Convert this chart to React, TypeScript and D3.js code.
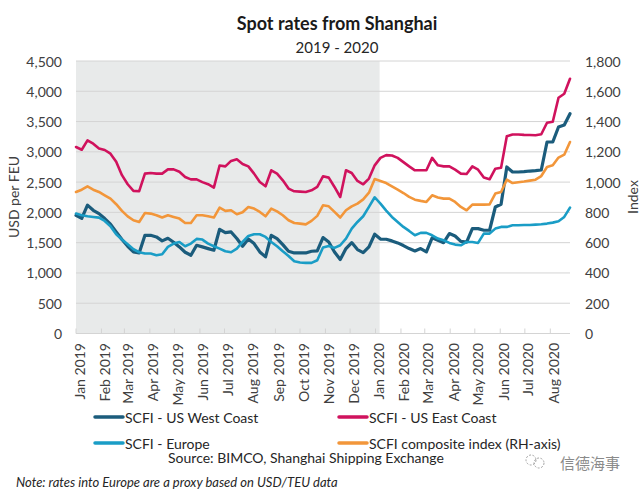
import React from "react";
import * as d3 from "d3";

const dates: string[] = [
  "2019-01-04","2019-01-11","2019-01-18","2019-01-25","2019-02-01","2019-02-08","2019-02-15","2019-02-22",
  "2019-03-01","2019-03-08","2019-03-15","2019-03-22","2019-03-29","2019-04-05","2019-04-12","2019-04-19","2019-04-26",
  "2019-05-03","2019-05-10","2019-05-17","2019-05-24","2019-05-31","2019-06-07","2019-06-14","2019-06-21","2019-06-28",
  "2019-07-05","2019-07-12","2019-07-19","2019-07-26","2019-08-02","2019-08-09","2019-08-16","2019-08-23","2019-08-30",
  "2019-09-06","2019-09-13","2019-09-20","2019-09-27","2019-10-04","2019-10-11","2019-10-18","2019-10-25",
  "2019-11-01","2019-11-08","2019-11-15","2019-11-22","2019-11-29","2019-12-06","2019-12-13","2019-12-20","2019-12-27",
  "2020-01-03","2020-01-10","2020-01-17","2020-01-24","2020-01-31","2020-02-07","2020-02-14","2020-02-21","2020-02-28",
  "2020-03-06","2020-03-13","2020-03-20","2020-03-27","2020-04-03","2020-04-10","2020-04-17","2020-04-24",
  "2020-05-01","2020-05-08","2020-05-15","2020-05-22","2020-05-29","2020-06-05","2020-06-12","2020-06-19","2020-06-26",
  "2020-07-03","2020-07-10","2020-07-17","2020-07-24","2020-07-31","2020-08-07","2020-08-14","2020-08-21","2020-08-28",
];

const usWestCoast: number[] = [
  1950,1900,2120,2035,1980,1898,1804,1677,1551,1441,1347,1330,1622,1622,1595,1529,1573,1507,1430,1342,1292,1457,1430,1402,1375,1721,
  1666,1677,1568,1441,1562,1485,1347,1265,1622,1568,1468,1358,1330,1330,1330,1358,1364,1584,1512,1347,1221,1402,1501,1386,1336,1430,1639,1560,1556,
  1529,1496,1452,1402,1364,1402,1347,1580,1540,1500,1650,1610,1520,1510,1732,1732,1705,1705,2089,2134,2750,2667,2667,2672,2683,2689,2700,3162,3162,3410,3443,3630,
];

const usEastCoast: number[] = [
  3080,3035,3190,3135,3055,3030,2970,2835,2615,2465,2355,2350,2640,2650,2640,2640,2710,2710,2670,2585,2545,2545,2500,2465,2410,2775,
  2760,2850,2877,2800,2760,2640,2502,2431,2695,2640,2530,2393,2348,2343,2337,2365,2420,2596,2574,2420,2254,2695,2651,2519,2464,2558,2777,2900,2946,
  2940,2900,2830,2760,2695,2695,2695,2900,2777,2760,2760,2705,2640,2633,2760,2705,2575,2547,2722,2738,3256,3286,3286,3280,3278,3275,3290,3480,3497,3894,3960,4207,
];

const europe: number[] = [
  1980,1952,1936,1925,1914,1859,1771,1639,1551,1474,1391,1342,1320,1320,1292,1309,1430,1485,1512,1441,1485,1562,1551,1485,1441,1402,
  1358,1342,1402,1512,1611,1639,1639,1595,1512,1441,1358,1281,1194,1172,1166,1166,1210,1419,1446,1413,1457,1568,1732,1842,1936,2090,2250,2145,2030,
  1925,1842,1760,1694,1622,1661,1661,1622,1567,1540,1496,1468,1457,1512,1512,1496,1650,1650,1732,1760,1760,1787,1787,1792,1792,1798,1804,1815,1831,1853,1925,2078,
];

const composite: number[] = [
  935,950,972,950,935,913,891,854,810,774,748,737,796,792,781,766,781,770,759,730,730,781,781,774,766,831,
  810,814,788,801,836,825,803,774,825,807,781,748,730,726,721,744,777,847,840,803,766,814,840,858,886,930,1020,1007,994,
  972,950,928,902,884,876,869,913,898,891,891,869,836,814,851,851,851,853,924,935,1016,994,999,1004,1010,1016,1040,1100,1111,1162,1181,1265,
];

const leftTicks: number[] = [0, 500, 1000, 1500, 2000, 2500, 3000, 3500, 4000, 4500];
const rightTicks: number[] = [0, 200, 400, 600, 800, 1000, 1200, 1400, 1600, 1800];
const monthTicks: string[] = [
  "2019-01-04","2019-02-04","2019-03-04","2019-04-04","2019-05-04","2019-06-04","2019-07-04","2019-08-04","2019-09-04",
  "2019-10-04","2019-11-04","2019-12-04","2020-01-04","2020-02-04","2020-03-04","2020-04-04","2020-05-04","2020-06-04",
  "2020-07-04","2020-08-04",
];
const shadedRange: string[] = ["2019-01-04", "2020-01-09"];

const seriesNames: string[] = [
  "SCFI - US West Coast",
  "SCFI - US East Coast",
  "SCFI - Europe",
  "SCFI composite index (RH-axis)",
];
const seriesColors: string[] = ["#1b5c7c", "#d0125d", "#1a9dc6", "#f2963a"];

const title = "Spot rates from Shanghai";
const subtitle = "2019 - 2020";
const leftAxisTitle = "USD per FEU";
const rightAxisTitle = "Index";
const sourceText = "Source: BIMCO, Shanghai Shipping Exchange";
const noteText = "Note: rates into Europe are a proxy based on USD/TEU data";
const watermark = "信德海事";

const FONT = "Lato, 'Open Sans', sans-serif";

export default function App() {
  const W = 643, H = 492;
  const left = 76, right = 570, top = 61, bottom = 333.5;
  const parse = d3.timeParse("%Y-%m-%d");
  const dts = dates.map((d) => parse(d) as Date);
  const x = d3.scaleTime().domain([dts[0], dts[dts.length - 1]]).range([left, right]);
  const yL = d3.scaleLinear().domain([0, 4500]).range([bottom, top]);
  const yR = d3.scaleLinear().domain([0, 1800]).range([bottom, top]);
  const fmt = d3.format(",");
  const tf = d3.timeFormat("%b %Y");

  const lineL = d3.line<number>().x((_, i) => x(dts[i])).y((v) => yL(v));
  const lineR = d3.line<number>().x((_, i) => x(dts[i])).y((v) => yR(v));

  const series = [
    { d: lineL(usWestCoast), c: seriesColors[0], w: 3.2 },
    { d: lineL(usEastCoast), c: seriesColors[1], w: 2.6 },
    { d: lineL(europe), c: seriesColors[2], w: 2.6 },
    { d: lineR(composite), c: seriesColors[3], w: 2.6 },
  ];

  const s0 = x(parse(shadedRange[0]) as Date);
  const s1 = x(parse(shadedRange[1]) as Date);
  const textCol = "#404040";

  const legendItems = [
    { x: 95, y: 417, i: 0 },
    { x: 339, y: 417, i: 1 },
    { x: 95, y: 443, i: 2 },
    { x: 339, y: 443, i: 3 },
  ];

  return (
    <svg width={W} height={H} style={{ position: "absolute", left: 0, top: 0, background: "#fff" }} fontFamily={FONT}>
      <rect x={0} y={0} width={W} height={H} fill="#fff" />
      <rect x={s0} y={top} width={s1 - s0} height={bottom - top} fill="#e8eaea" />
      {leftTicks.filter((t) => t > 0).map((t) => (
        <line key={t} x1={left} x2={right} y1={yL(t)} y2={yL(t)} stroke="#d4d4d4" strokeWidth={1} />
      ))}
      <line x1={left} x2={right} y1={bottom} y2={bottom} stroke="#d4d4d4" strokeWidth={1} />
      {monthTicks.map((m) => {
        const xv = x(parse(m) as Date);
        return <line key={m} x1={xv} x2={xv} y1={bottom} y2={bottom - 5} stroke="#d4d4d4" strokeWidth={1} />;
      })}
      {series.map((s, i) => (
        <path key={i} d={s.d || ""} fill="none" stroke={s.c} strokeWidth={s.w} strokeLinejoin="round" strokeLinecap="round" />
      ))}
      {leftTicks.map((t) => (
        <text key={t} x={62} y={yL(t)} textAnchor="end" dominantBaseline="central" fontSize={14} fill={textCol}>
          {fmt(t)}
        </text>
      ))}
      {rightTicks.map((t) => (
        <text key={t} x={585} y={yR(t)} textAnchor="start" dominantBaseline="central" fontSize={14} fill={textCol}>
          {fmt(t)}
        </text>
      ))}
      {monthTicks.map((m) => {
        const xv = x(parse(m) as Date);
        return (
          <text key={m} transform={`translate(${xv + 3},${343}) rotate(-90)`} textAnchor="end" dominantBaseline="central" fontSize={14} fill={textCol}>
            {tf(parse(m) as Date)}
          </text>
        );
      })}
      <text transform={`translate(13,197) rotate(-90)`} textAnchor="middle" dominantBaseline="central" fontSize={14} fill={textCol}>
        {leftAxisTitle}
      </text>
      <text transform={`translate(632,197) rotate(-90)`} textAnchor="middle" dominantBaseline="central" fontSize={14} fill={textCol}>
        {rightAxisTitle}
      </text>
      <text x={337} y={30} textAnchor="middle" fontSize={18} fontWeight="bold" fill="#1a1a1a">
        {title}
      </text>
      <text x={337} y={53} textAnchor="middle" fontSize={15} fill="#262626">
        {subtitle}
      </text>
      {legendItems.map((l) => (
        <g key={l.i}>
          <line x1={l.x} x2={l.x + 28} y1={l.y} y2={l.y} stroke={seriesColors[l.i]} strokeWidth={3.5} strokeLinecap="round" />
          <text x={l.x + 30} y={l.y} dominantBaseline="central" fontSize={14} fill="#262626">
            {seriesNames[l.i]}
          </text>
        </g>
      ))}
      <text x={306} y={457} textAnchor="middle" dominantBaseline="central" fontSize={14} fill="#262626">
        {sourceText}
      </text>
      <text x={16} y={482} dominantBaseline="central" fontSize={13} fontStyle="italic" fill="#262626">
        {noteText}
      </text>
      <g stroke="#9a9a9a" fill="none" strokeWidth={0.9}>
        <circle cx={531} cy={460} r={5} strokeDasharray="2 1.5" />
        <circle cx={539} cy={463} r={5} strokeDasharray="2 1.5" />
      </g>
      <text x={560} y={462} dominantBaseline="central" fontSize={15} fill="#8a8a8a" fontFamily="'Noto Sans CJK SC', sans-serif">
        {watermark}
      </text>
    </svg>
  );
}
